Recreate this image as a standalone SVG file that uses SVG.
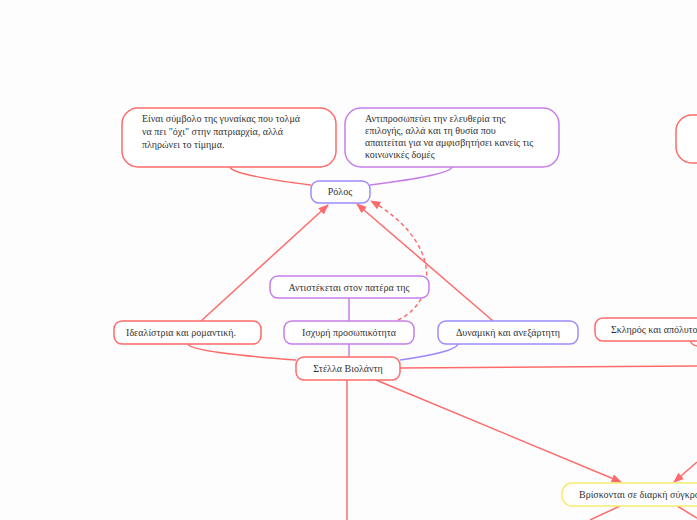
<svg xmlns="http://www.w3.org/2000/svg" width="697" height="520" viewBox="0 0 697 520">
<style>
text{font-family:"Liberation Serif","DejaVu Serif",serif;font-size:10px;fill:#333}
.n{fill:#fff;stroke-width:1.5}
.r{stroke:#ff6b6b}.p{stroke:#c77ee8}.b{stroke:#9a8cff}.y{stroke:#f7eb6e}
.c{fill:none;stroke-width:1.5}
.m{text-anchor:middle}
</style>
<defs><marker id="a" viewBox="0 0 10 10" refX="9" refY="5" markerWidth="7" markerHeight="7" orient="auto"><path d="M0,1 L10,5 L0,9 Z" fill="#ff6b6b"/></marker></defs>
<rect width="697" height="520" fill="#fdfdfd"/>
<g id="connectors">
<path class="c r" d="M230,167 Q232,175 311,185"/>
<path class="c p" d="M452,167 Q450,175 370,185"/>
<path class="c r" d="M201,321 L328,205" marker-end="url(#a)"/>
<path class="c r" d="M493,321 L357,204" marker-end="url(#a)"/>
<path class="c r" d="M398,320 C440,300 440,240 371,201" stroke-dasharray="4,3" marker-end="url(#a)"/>
<path class="c p" d="M349,298 L349,321"/>
<path class="c p" d="M349,344 L349,357"/>
<path class="c r" d="M188,344 Q190,352 296,360"/>
<path class="c b" d="M458,344 Q456,352 400,360"/>
<path class="c r" d="M400,368 L697,366"/>
<path class="c r" d="M690,341 Q692,345 697,346"/>
<path class="c r" d="M347,380 L347,520"/>
<path class="c r" d="M376,380 L621,482" marker-end="url(#a)"/>
<path class="c r" d="M697,462 L674,482" marker-end="url(#a)"/>
<path class="c r" d="M620,506 L590,520"/>
<path class="c r" d="M677,506 L697,518"/>
</g>
<g id="n1"><rect class="n r" x="122" y="108" width="214" height="59" rx="16"/>
<text x="142" y="122">Είναι σύμβολο της γυναίκας που τολμά</text><text x="142" y="135">να πει "όχι" στην πατριαρχία, αλλά</text><text x="142" y="148">πληρώνει το τίμημα.</text></g>
<g id="n2"><rect class="n p" x="345" y="108" width="214" height="59" rx="16"/>
<text x="365" y="122">Αντιπροσωπεύει την ελευθερία της</text><text x="365" y="134">επιλογής, αλλά και τη θυσία που</text><text x="365" y="146">απαιτείται για να αμφισβητήσει κανείς τις</text><text x="365" y="158">κοινωνικές δομές</text></g>
<g id="n3"><rect class="n r" x="676" y="115" width="40" height="48" rx="16"/></g>
<g id="rolos"><rect class="n b" x="311" y="181" width="59" height="22" rx="8"/><text class="m" x="340" y="195">Ρόλος</text></g>
<g id="antist"><rect class="n p" x="270" y="276" width="159" height="22" rx="8"/><text class="m" x="349" y="291">Αντιστέκεται στον πατέρα της</text></g>
<g id="ideal"><rect class="n r" x="114" y="321" width="147" height="23" rx="8"/><text class="m" x="181" y="336">Ιδεαλίστρια και ρομαντική.</text></g>
<g id="isx"><rect class="n p" x="284" y="321" width="130" height="23" rx="8"/><text class="m" x="349" y="336">Ισχυρή προσωπικότητα</text></g>
<g id="dyn"><rect class="n b" x="438" y="321" width="140" height="23" rx="8"/><text class="m" x="508" y="336">Δυναμική και ανεξάρτητη</text></g>
<g id="skl"><rect class="n r" x="595" y="318" width="130" height="23" rx="8"/><text x="611" y="333">Σκληρός και απόλυτος</text></g>
<g id="stella"><rect class="n r" x="296" y="357" width="104" height="23" rx="8"/><text class="m" x="348" y="372">Στέλλα Βιολάντη</text></g>
<g id="vrisk"><rect class="n y" x="562" y="483" width="180" height="23" rx="10"/><text x="579" y="498">Βρίσκονται σε διαρκή σύγκρουση</text></g>
</svg>
